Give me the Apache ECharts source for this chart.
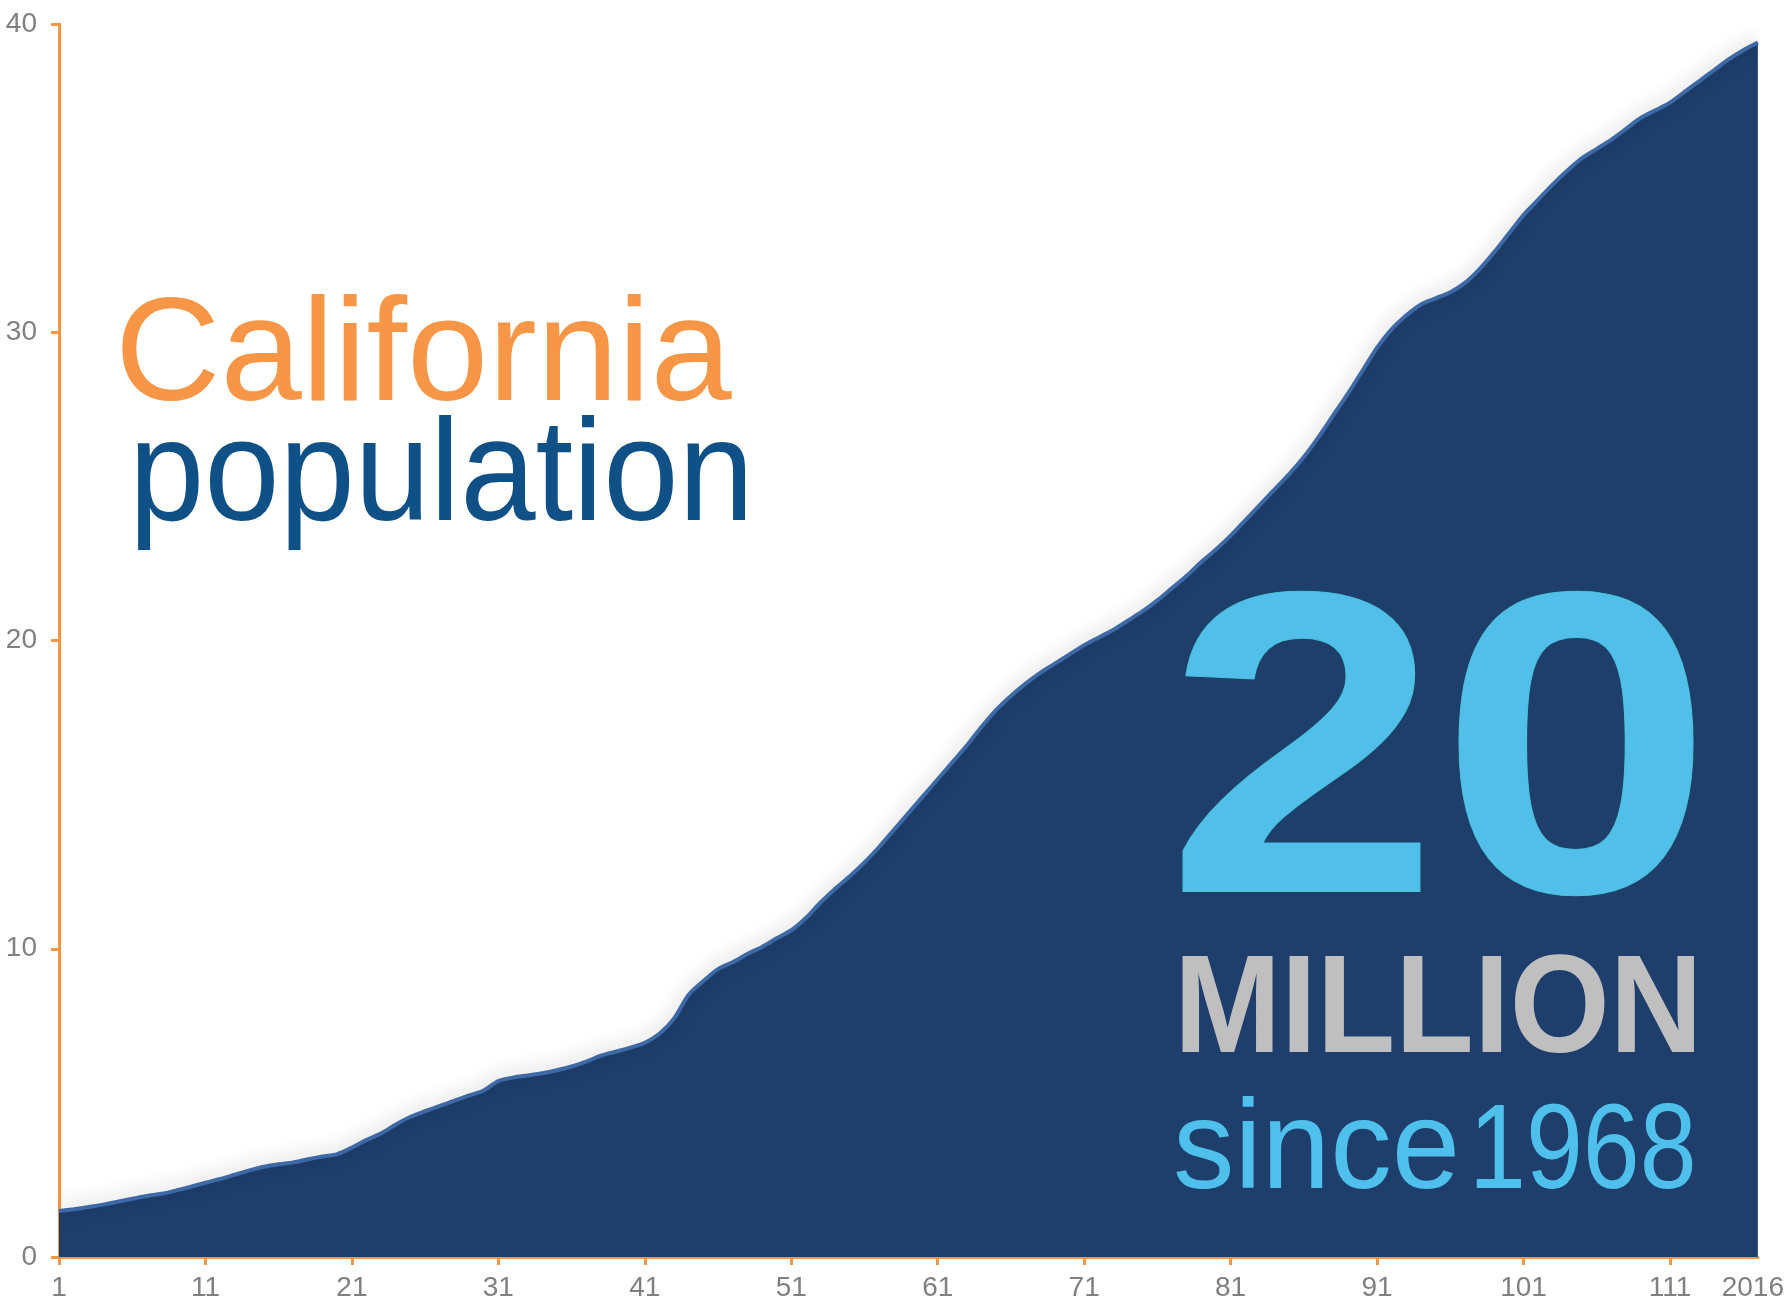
<!DOCTYPE html>
<html>
<head>
<meta charset="utf-8">
<script src="https://cdn.jsdelivr.net/npm/echarts@6/dist/echarts.min.js"></script>
<style>
html,body{margin:0;padding:0;background:#fff;}
#chart{width:1787px;height:1305px;}
</style>
</head>
<body>
<div id="chart"></div>
<script>
// x categories: year index 1..116, final year labelled 2016
const categories = Array.from({length: 116}, (_, i) => String(i + 1)).concat(['2016']);
// California population, millions (1900..2016)
const population = [
  1.49,1.55,1.62,1.70,1.79,1.89,1.98,2.05,2.16,2.28,
  2.41,2.53,2.67,2.81,2.93,3.01,3.07,3.17,3.26,3.34,
  3.55,3.80,4.01,4.30,4.55,4.73,4.90,5.07,5.24,5.40,
  5.71,5.82,5.89,5.96,6.06,6.18,6.34,6.53,6.66,6.79,
  6.95,7.24,7.74,8.51,8.95,9.34,9.56,9.83,10.06,10.34,
  10.60,11.00,11.50,11.95,12.35,12.80,13.30,13.85,14.40,14.95,
  15.50,16.05,16.60,17.20,17.75,18.20,18.60,18.95,19.25,19.55,
  19.85,20.10,20.35,20.65,20.95,21.30,21.70,22.10,22.55,22.95,
  23.40,23.90,24.40,24.90,25.40,25.95,26.60,27.30,28.00,28.75,
  29.50,30.10,30.55,30.90,31.10,31.30,31.60,32.05,32.60,33.20,
  33.80,34.30,34.80,35.25,35.65,35.95,36.25,36.60,36.95,37.20,
  37.45,37.80,38.15,38.50,38.85,39.15,39.40
];
const yTicks = [0, 10, 20, 30, 40];
const titleLine1 = 'California';
const titleLine2 = 'population';
const bigNumber = '20';
const unitText = 'MILLION';
const sinceWord = 'since';
const sinceYear = '1968';

const FONT = '"Liberation Sans", Arial, sans-serif';
const ORANGE = '#f79646';
const LABEL = '#808080';
const lastIdx = categories.length - 1;

const chart = echarts.init(document.getElementById('chart'), null, {renderer: 'canvas'});
chart.setOption({
  backgroundColor: '#ffffff',
  animation: false,
  grid: {left: 59, right: 26, top: 24, bottom: 48, containLabel: false},
  xAxis: {
    type: 'category',
    data: categories,
    boundaryGap: false,
    axisLine: {lineStyle: {color: ORANGE, width: 3}},
    axisTick: {
      show: true, length: 8, alignWithLabel: true,
      interval: (i) => i % 10 === 0,
      lineStyle: {color: ORANGE, width: 3}
    },
    axisLabel: {
      interval: (i) => i % 10 === 0 || i === lastIdx,
      color: LABEL, fontSize: 28, fontFamily: FONT, margin: 17,
      formatter: (v, i) => i === lastIdx ? '{last|' + v + '}' : v,
      rich: {last: {color: LABEL, fontSize: 28, fontFamily: FONT, padding: [0, 10, 7, 0]}}
    },
    splitLine: {show: false}
  },
  yAxis: {
    type: 'value',
    min: yTicks[0], max: yTicks[yTicks.length - 1], interval: 10,
    axisLine: {show: true, lineStyle: {color: ORANGE, width: 3}},
    axisTick: {show: true, length: 8, lineStyle: {color: ORANGE, width: 3}},
    axisLabel: {color: LABEL, fontSize: 28, fontFamily: FONT, margin: 22},
    splitLine: {show: false}
  },
  series: [{
    type: 'line',
    data: population,
    smooth: 0.3,
    showSymbol: false,
    symbol: 'none',
    z: 2,
    lineStyle: {
      color: '#3d6aa6', width: 4,
      shadowColor: 'rgba(0,0,0,0.30)', shadowBlur: 18, shadowOffsetY: -2
    },
    areaStyle: {color: '#1e3e6c', opacity: 1}
  }],
  graphic: [
    {type: 'text', x: 115, y: 360, z: 100,
      style: {text: titleLine1, fill: ORANGE, font: 'normal 146px ' + FONT, verticalAlign: 'middle'}},
    {type: 'text', x: 129, y: 480, z: 100, scaleX: 0.94,
      style: {text: titleLine2, fill: '#0f5187', font: 'normal 144px ' + FONT, verticalAlign: 'middle'}},
    {type: 'text', x: 1166, y: 773, z: 100, scaleX: 1.144,
      style: {text: bigNumber, fill: '#52bfea', font: 'bold 430px ' + FONT, verticalAlign: 'middle', stroke: '#3fc6c6', lineWidth: 1}},
    {type: 'text', x: 1174, y: 1014, z: 100, scaleX: 0.925,
      style: {text: unitText, fill: '#bfbfbf', font: 'bold 139px ' + FONT, verticalAlign: 'middle'}},
    {type: 'text', x: 1173, y: 1153, z: 100, scaleX: 0.976,
      style: {text: sinceWord, fill: '#4fc0ec', font: 'normal 126px ' + FONT, verticalAlign: 'middle'}},
    {type: 'text', x: 1469, y: 1155, z: 100, scaleX: 0.846,
      style: {text: sinceYear, fill: '#4fc0ec', font: 'normal 121px ' + FONT, verticalAlign: 'middle'}}
  ]
});
</script>
</body>
</html>
